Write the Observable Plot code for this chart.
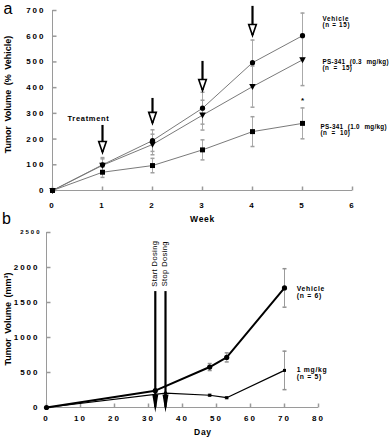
<!DOCTYPE html>
<html><head><meta charset="utf-8">
<script src="https://cdn.jsdelivr.net/npm/d3@7"></script>
<script src="https://cdn.jsdelivr.net/npm/@observablehq/plot@0.6"></script>
<style>
html,body{margin:0;padding:0;background:#fff;}
#chart{position:relative;width:391px;height:440px;overflow:hidden;background:#fff;}
#chart svg{display:block;overflow:visible;}
g[aria-label="y-axis tick label"] text, g[aria-label="x-axis tick label"] text{letter-spacing:2px;}
</style></head><body><div id="chart"></div>
<script>
// ---------- Panel a data ----------
const weeks = [0, 1, 2, 3, 4, 5];
const vehicleA = [0, 100, 194, 320, 497, 602];
const vehicleAErr = [0, 28, 42, 62, 88, 88];
const ps03A = [0, 98, 179, 293, 404, 508];
const ps03AErr = [0, 25, 40, 58, 80, 100];
const ps10A = [0, 71, 97, 158, 229, 261];
const ps10AErr = [0, 20, 28, 39, 58, 60];
const yTicksA = [0, 100, 200, 300, 400, 500, 600, 700];
const xTicksA = [0, 1, 2, 3, 4, 5, 6];
const arrowWeeks = [1, 2, 3, 4];
const arrowTips = [148, 261, 389, 603];
const arrowTops = [253, 358, 502, 716];
const labelsA = ["Vehicle\n(n = 15)", "PS-341 (0.3 mg/kg)\n(n = 15)", "PS-341 (1.0 mg/kg)\n(n = 10)"];
const labelsAx = [5.4, 5.4, 5.36];
const labelsAy = [679, 511, 259];

// ---------- Panel b data ----------
const vehicleDays = [0, 32, 48, 53, 70];
const vehicleB = [0, 240, 578, 716, 1708];
const vehicleBErr = [0, 0, 50, 65, 275];
const doseDays = [0, 35, 48, 53, 70];
const doseB = [0, 205, 175, 140, 530];
const doseBErr = [0, 0, 12, 12, 275];
const yTicksB = [0, 500, 1000, 1500, 2000];
const yTopTickB = [2500];
const xTicksB = [0, 10, 20, 30, 40, 50, 60, 70, 80];
const dosingDays = [32, 35];
const dosingText = ["Start Dosing", "Stop Dosing"];
const dosingTop = 1656;
const labelsB = ["Vehicle\n(n = 6)", "1 mg/kg\n(n = 5)"];
const labelsBy = [1741, 588];

// ---------- symbols ----------
const tickRight = {draw(c){c.moveTo(0,0);c.lineTo(4,0);}};
const tickUp = {draw(c){c.moveTo(0,0);c.lineTo(0,-4);}};
const capH = {draw(c){c.moveTo(-2,0);c.lineTo(2,0);}};
const triDown = {draw(c){c.moveTo(0,3.4);c.lineTo(-3.3,-2.6);c.lineTo(3.3,-2.6);c.closePath();}};
const openHead = {draw(c){c.moveTo(0,0);c.lineTo(-3.8,-11);c.lineTo(3.8,-11);c.closePath();}};
const solidHead = {draw(c){c.moveTo(0,5);c.lineTo(-3,-13);c.lineTo(3,-13);c.closePath();}};

const font = "'Liberation Sans', Arial, Helvetica, sans-serif";
const axisGray = "#9a9a9a";

function rows(xs, ys, es, name) {
  return xs.map((x, i) => ({series: name, x, y: ys[i], e: es[i]}));
}
const vA = rows(weeks, vehicleA, vehicleAErr, "Vehicle");
const pA = rows(weeks, ps03A, ps03AErr, "PS-341 (0.3 mg/kg)");
const qA = rows(weeks, ps10A, ps10AErr, "PS-341 (1.0 mg/kg)");
const allA = [...vA, ...pA, ...qA];
const errA = allA.filter(d => d.e > 0);
const arrowsA = arrowWeeks.map((w, i) => ({x: w, tip: arrowTips[i], top: arrowTops[i]}));
const labA = labelsA.map((t, i) => ({t, x: labelsAx[i], y: labelsAy[i]}));

const plotA = Plot.plot({
  width: 391, height: 222,
  marginTop: 10, marginBottom: 32, marginLeft: 52, marginRight: 39,
  x: {domain: [0, 6]}, y: {domain: [0, 700]},
  style: {fontFamily: font, background: "transparent", overflow: "visible"},
  marks: [
    Plot.ruleX([0], {stroke: axisGray}),
    Plot.ruleY([0], {stroke: axisGray}),
    Plot.dot(yTicksA, {x: 0, y: d => d, symbol: tickRight, stroke: axisGray, fill: "none"}),
    Plot.dot(xTicksA, {x: d => d, y: 0, symbol: tickUp, stroke: axisGray, fill: "none"}),
    Plot.axisY({ticks: yTicksA, tickFormat: "d", tickSize: 0, tickPadding: 7, fontSize: 8, fontWeight: "bold", label: null}),
    Plot.axisX({ticks: xTicksA, tickFormat: "d", tickSize: 0, tickPadding: 12, fontSize: 8, fontWeight: "bold", label: null}),
    Plot.ruleX(errA, {x: "x", y1: d => d.y - d.e, y2: d => d.y + d.e, stroke: "#a0a0a0", strokeWidth: 0.9}),
    Plot.dot(errA, {x: "x", y: d => d.y - d.e, symbol: capH, stroke: "#a0a0a0", fill: "none"}),
    Plot.dot(errA, {x: "x", y: d => d.y + d.e, symbol: capH, stroke: "#a0a0a0", fill: "none"}),
    Plot.line(allA, {x: "x", y: "y", z: "series", stroke: "#7a7a7a", strokeWidth: 1}),
    Plot.dot(vA, {x: "x", y: "y", r: 2.6, fill: "black"}),
    Plot.dot(pA, {x: "x", y: "y", symbol: triDown, fill: "black", stroke: "none"}),
    Plot.dot(qA, {x: "x", y: "y", symbol: "square", r: 2.8, fill: "black"}),
    Plot.ruleX(arrowsA, {x: "x", y1: "tip", y2: "top", stroke: "black", strokeWidth: 2.2}),
    Plot.dot(arrowsA, {x: "x", y: "tip", symbol: openHead, fill: "white", stroke: "black", strokeWidth: 1.6}),
    Plot.text(["Treatment"], {x: 0.72, y: 280, fontSize: 7.5, fontWeight: "bold"}),
    Plot.text(["*"], {x: 5, y: 350, fontSize: 8, fontWeight: "bold"}),
    Plot.text(labA, {x: "x", y: "y", text: "t", textAnchor: "start", lineAnchor: "top", lineHeight: 1.05, fontSize: 6.3, fontWeight: "bold"}),
    Plot.text(["Tumor Volume (% Vehicle)"], {frameAnchor: "left", textAnchor: "middle", lineAnchor: "middle", dx: -44, dy: -6, rotate: -90, fontSize: 9, fontWeight: "bold"}),
    Plot.text(["Week"], {x: 3, frameAnchor: "bottom", lineAnchor: "middle", dy: 29, fontSize: 8.5, fontWeight: "bold"}),
    Plot.text(["a"], {frameAnchor: "top-left", textAnchor: "middle", lineAnchor: "middle", dx: -44.5, dy: -2, fontSize: 16})
  ]
});

const vB = rows(vehicleDays, vehicleB, vehicleBErr, "Vehicle");
const dB = rows(doseDays, doseB, doseBErr, "1 mg/kg");
const errB = [...vB, ...dB].filter(d => d.e > 0);
const dosing = dosingDays.map((x, i) => ({x, t: dosingText[i]}));
const labB = labelsB.map((t, i) => ({t, y: labelsBy[i]}));

const plotB = Plot.plot({
  width: 391, height: 218,
  marginTop: 10, marginBottom: 33, marginLeft: 46, marginRight: 73,
  x: {domain: [0, 80]}, y: {domain: [0, 2500]},
  style: {fontFamily: font, background: "transparent", overflow: "visible"},
  marks: [
    Plot.ruleX([0], {stroke: axisGray}),
    Plot.ruleY([0], {stroke: axisGray}),
    Plot.dot([...yTicksB, ...yTopTickB], {x: 0, y: d => d, symbol: tickRight, stroke: axisGray, fill: "none"}),
    Plot.dot(xTicksB, {x: d => d, y: 0, symbol: tickUp, stroke: axisGray, fill: "none"}),
    Plot.axisY({ticks: yTicksB, tickFormat: "d", tickSize: 0, tickPadding: 7, fontSize: 8, fontWeight: "bold", label: null}),
    Plot.axisY({ticks: yTopTickB, tickFormat: "d", tickSize: 0, tickPadding: 5, fontSize: 6, fontWeight: "bold", label: null}),
    Plot.axisX({ticks: xTicksB, tickFormat: "d", tickSize: 0, tickPadding: 8, fontSize: 8, fontWeight: "bold", label: null}),
    Plot.ruleX(errB, {x: "x", y1: d => d.y - d.e, y2: d => d.y + d.e, stroke: "#909090", strokeWidth: 0.9}),
    Plot.dot(errB, {x: "x", y: d => d.y - d.e, symbol: capH, stroke: "#909090", fill: "none"}),
    Plot.dot(errB, {x: "x", y: d => d.y + d.e, symbol: capH, stroke: "#909090", fill: "none"}),
    Plot.line(dB, {x: "x", y: "y", stroke: "black", strokeWidth: 1.2}),
    Plot.line(vB, {x: "x", y: "y", stroke: "black", strokeWidth: 2}),
    Plot.dot(dB, {x: "x", y: "y", symbol: "square", r: 1.7, fill: "black"}),
    Plot.dot(vB, {x: "x", y: "y", r: 2.6, fill: "black"}),
    Plot.ruleX(dosing, {x: "x", y1: 0, y2: dosingTop, stroke: "black", strokeWidth: 2.2}),
    Plot.dot(dosing, {x: "x", y: 0, symbol: solidHead, fill: "black", stroke: "none"}),
    Plot.text(dosing, {x: "x", y: 2054, text: "t", rotate: -90, dx: -0.5, fontSize: 7.5}),
    Plot.text(labB, {x: 73.6, y: "y", text: "t", textAnchor: "start", lineAnchor: "top", lineHeight: 1.1, fontSize: 6.8, fontWeight: "bold"}),
    Plot.text(["Tumor Volume (mm³)"], {frameAnchor: "left", textAnchor: "middle", lineAnchor: "middle", dx: -38, dy: -1, rotate: -90, fontSize: 9, fontWeight: "bold"}),
    Plot.text(["Day"], {x: 46, frameAnchor: "bottom", lineAnchor: "middle", dy: 25, fontSize: 8.5, fontWeight: "bold"}),
    Plot.text(["b"], {frameAnchor: "top-left", textAnchor: "middle", lineAnchor: "middle", dx: -40, dy: -14, fontSize: 16})
  ]
});

const chart = document.getElementById("chart");
chart.appendChild(plotA);
chart.appendChild(plotB);
// letter and word spacing for annotation texts
d3.select(chart).selectAll('g[aria-label="text"] text').each(function() {
  const t = this.textContent;
  if (/PS-341/.test(t)) { this.style.letterSpacing = "0.3px"; this.style.wordSpacing = "2.5px"; return; }
  if (/Tumor/.test(t)) { this.style.wordSpacing = "2px"; return; }
  if (/Vehicle|mg\/kg|Week|Day|Treatment|Dosing|\(n/.test(t)) this.style.letterSpacing = /Dosing/.test(t) ? "0.4px" : "0.7px";
});
</script></body></html>
